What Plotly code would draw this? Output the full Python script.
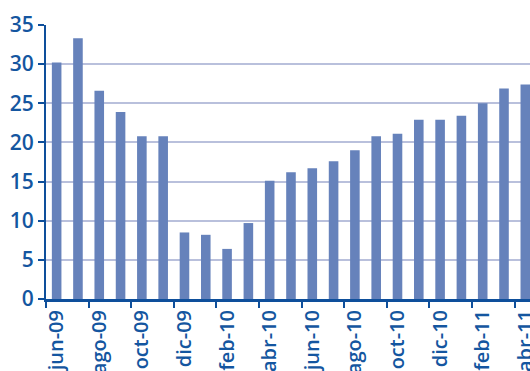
import plotly.graph_objects as go

months = ["jun-09", "jul-09", "ago-09", "sep-09", "oct-09", "nov-09", "dic-09", "ene-10",
          "feb-10", "mar-10", "abr-10", "may-10", "jun-10", "jul-10", "ago-10", "sep-10",
          "oct-10", "nov-10", "dic-10", "ene-11", "feb-11", "mar-11", "abr-11"]
values = [30.2, 33.3, 26.6, 23.9, 20.8, 20.8, 8.5, 8.2, 6.4, 9.7, 15.1, 16.2, 16.7, 17.6,
          19.0, 20.8, 21.1, 22.9, 22.9, 23.4, 25.0, 26.9, 27.4]
y_ticks = [0, 5, 10, 15, 20, 25, 30, 35]

bar_color = "#6682BB"
axis_color = "#0E4F9B"
text_color = "#1456A0"
grid_color = "#B9C0DC"

fig = go.Figure(go.Bar(x=months, y=values, marker=dict(color=bar_color, line=dict(width=0))))

fig.update_layout(
    width=530, height=371,
    margin=dict(l=46, r=0, t=25, b=72),
    paper_bgcolor="white", plot_bgcolor="white",
    bargap=0.55,
    showlegend=False,
    font=dict(family="Open Sans", color=text_color),
)
fig.update_xaxes(
    type="category",
    range=[-0.5, 22.22],
    tickmode="array",
    tickvals=months[::2],
    ticktext=months[::2],
    tickson="boundaries",
    ticks="outside", ticklen=6, tickwidth=2, tickcolor=axis_color,
    tickangle=-90,
    tickfont=dict(size=20, color=text_color, weight=600),
    showline=True, linecolor=axis_color, linewidth=3,
    showgrid=False, automargin=False,
)
fig.update_yaxes(
    range=[0, 35],
    tickvals=y_ticks,
    ticks="outside", ticklen=6, tickwidth=2, tickcolor=axis_color,
    tickfont=dict(size=21, color=text_color, weight=600),
    showline=True, linecolor=axis_color, linewidth=2,
    showgrid=True, gridcolor=grid_color, gridwidth=1.5,
    zeroline=False, automargin=False,
)

fig.write_html("out.html")
